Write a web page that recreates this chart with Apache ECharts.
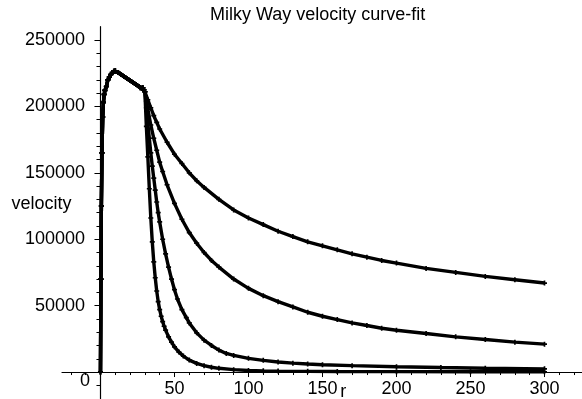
<!DOCTYPE html>
<html>
<head>
<meta charset="utf-8">
<script src="https://cdn.jsdelivr.net/npm/echarts@6/dist/echarts.min.js"></script>
<style>
html,body{margin:0;padding:0;background:#fff;}
#chart{width:582px;height:399px;}
</style>
</head>
<body>
<div id="chart"></div>
<script>
// ---- data (velocity values in thousands) ----
const titleText = 'Milky Way velocity curve-fit';
const xName = 'r';
const yName = 'velocity';
const xTickLabels = [50, 100, 150, 200, 250, 300];
const yTickLabels = [0, 50000, 100000, 150000, 200000, 250000];

// shared rising part (r from 0 to 30)
const riseR = [0, 0.3, 0.6, 1, 1.5, 2, 2.5, 3, 4, 5, 6, 7, 8, 9, 10, 12, 14, 16, 18, 20, 22, 24, 26, 27, 28, 28.6, 29.3, 30];
const riseV = [0, 70, 125, 165, 192, 203, 209, 212, 215, 220, 222, 224, 225.5, 226.5, 226.8, 225.5, 224, 222.5, 221, 219.5, 218, 216.5, 215, 214, 213.5, 214, 212.5, 211];

// four fitted fall-off curves beyond r = 30
const tailR_A = [32, 34, 36, 38, 40, 45, 50, 55, 60, 65, 70, 80, 90, 100, 110, 120, 130, 140, 150, 160, 170, 180, 190, 200, 220, 240, 260, 280, 300];
const tailV_A = [205, 199, 193, 188, 183, 173, 164, 157, 150, 144, 139, 130, 122, 116, 111, 106, 102, 98, 95, 92, 89, 86.5, 84, 82, 78, 75, 72, 69.5, 67];

const tailR_B = [31, 32, 34, 36, 38, 40, 42, 45, 50, 55, 60, 65, 70, 75, 80, 90, 100, 110, 120, 130, 140, 150, 160, 170, 180, 190, 200, 220, 240, 260, 280, 300];
const tailV_B = [204, 198, 186, 176, 167, 158, 151, 141, 127, 115, 105, 97, 90, 84, 79, 70, 63, 57.5, 53, 49, 45, 42, 39.5, 37, 35, 33, 31.5, 29, 26.5, 24.5, 22.5, 21];

const tailR_C = [31, 32, 33, 34, 35, 36, 37, 38, 39, 40, 42, 44, 46, 48, 50, 52, 55, 58, 60, 65, 70, 75, 80, 85, 90, 100, 110, 120, 130, 140, 150, 170, 200, 230, 260, 300];
const tailV_C = [199, 187, 176, 165, 155, 146, 137, 128, 120, 113, 100, 89, 79, 70, 62, 55, 47, 41, 37, 29.5, 24, 20, 16.5, 14, 12.5, 10.3, 8.8, 7.6, 6.7, 6.0, 5.5, 4.8, 4.0, 3.4, 2.9, 2.4];

const tailR_D = [31, 32, 33, 34, 35, 36, 37, 38, 39, 40, 41, 42, 43, 44, 46, 48, 50, 53, 56, 60, 65, 70, 75, 80, 90, 100, 110, 120, 140, 160, 200, 250, 300];
const tailV_D = [185, 162, 138, 116, 98, 83, 71, 61, 53, 47, 42, 38, 34.5, 31.6, 26.5, 22.5, 19, 15, 12, 9, 6.5, 4.8, 3.6, 2.8, 1.8, 1.2, 0.9, 0.7, 0.5, 0.4, 0.3, 0.2, 0.2];

// ---- axis ranges ----
const X_MIN = -26, X_MAX = 325;
const Y_MIN = -20000, Y_MAX = 260000;

// ---- build ----
const K = 1000;
function curve(tr, tv) {
  const out = [];
  riseR.forEach((r, i) => out.push([r, riseV[i] * K]));
  tr.forEach((r, i) => out.push([r, tv[i] * K]));
  return out;
}
const xMinor = [], yMinor = [];
for (let v = -20; v <= 320; v += 10) if (v % 50 !== 0) xMinor.push(v);
for (let v = -10000; v <= 250000; v += 10000) if (v % 50000 !== 0) yMinor.push(v);

const FONT = 'Liberation Sans, Arial, sans-serif';
const PLUS = 'path://M2,0H4V2H6V4H4V6H2V4H0V2H2Z';

const G = { left: 62, top: 26.7, width: 519.5, height: 371.9 };
// axes cross at the origin: shift each axis from the grid edge to the other axis' zero
const yOff = -G.width * (0 - X_MIN) / (X_MAX - X_MIN);
const xOff = -G.height * (0 - Y_MIN) / (Y_MAX - Y_MIN);

function series(tr, tv) {
  return {
    type: 'line', xAxisIndex: 0, yAxisIndex: 0,
    data: curve(tr, tv),
    symbol: PLUS, symbolSize: 5, showAllSymbol: true,
    lineStyle: { color: '#000', width: 3.4 },
    itemStyle: { color: '#000' },
    emphasis: { disabled: true },
    silent: true
  };
}

const chart = echarts.init(document.getElementById('chart'), null, { renderer: 'canvas' });
const axisLineStyle = { color: '#000', width: 1.2 };
chart.setOption({
  animation: false,
  backgroundColor: '#fff',
  title: {
    text: titleText, left: 210, top: 6.5, padding: 0,
    textStyle: { fontFamily: FONT, fontSize: 18, fontWeight: 'normal', color: '#000' }
  },
  grid: Object.assign({ containLabel: false, outerBoundsMode: 'none' }, G),
  xAxis: [
    {
      type: 'value', min: X_MIN, max: X_MAX, position: 'bottom', offset: xOff,
      axisLine: { onZero: false, lineStyle: axisLineStyle },
      axisTick: { customValues: xTickLabels, length: 5, lineStyle: { color: '#000', width: 1 } },
      axisLabel: { customValues: xTickLabels, fontFamily: FONT, fontSize: 18, color: '#000', margin: 8, hideOverlap: false },
      splitLine: { show: false },
      name: xName, nameLocation: 'middle', nameGap: 11, nameMoveOverlap: false,
      nameTextStyle: { fontFamily: FONT, fontSize: 18, color: '#000', padding: [0, 0, 0, 43] }
    },
    {
      type: 'value', min: X_MIN, max: X_MAX, position: 'bottom', offset: xOff,
      axisLine: { onZero: false, show: false },
      axisTick: { customValues: xMinor, length: 3, lineStyle: { color: '#000', width: 1 } },
      axisLabel: { show: false },
      splitLine: { show: false }
    }
  ],
  yAxis: [
    {
      type: 'value', min: Y_MIN, max: Y_MAX, position: 'left', offset: yOff,
      axisLine: { onZero: false, lineStyle: axisLineStyle },
      axisTick: { customValues: [50000, 100000, 150000, 200000, 250000], length: 6, lineStyle: { color: '#000', width: 1 } },
      axisLabel: {
        customValues: yTickLabels, margin: 10.5, hideOverlap: false,
        fontFamily: FONT, fontSize: 18, color: '#000',
        formatter: v => v === 0 ? '{z|0}' : '{n|' + v + '}',
        rich: {
          n: { fontFamily: FONT, fontSize: 18, color: '#000', padding: [0, 5, 0, 0] },
          z: { fontFamily: FONT, fontSize: 18, color: '#000', padding: [18, 0, 0, 0] }
        }
      },
      splitLine: { show: false },
      name: yName, nameLocation: 'middle', nameRotate: 0, nameGap: 29, nameMoveOverlap: false,
      nameTextStyle: { fontFamily: FONT, fontSize: 18, color: '#000', verticalAlign: 'bottom' }
    },
    {
      type: 'value', min: Y_MIN, max: Y_MAX, position: 'left', offset: yOff,
      axisLine: { onZero: false, show: false },
      axisTick: { customValues: yMinor, length: 4, lineStyle: { color: '#000', width: 1 } },
      axisLabel: { show: false },
      splitLine: { show: false }
    }
  ],
  series: [
    series(tailR_A, tailV_A),
    series(tailR_B, tailV_B),
    series(tailR_C, tailV_C),
    series(tailR_D, tailV_D)
  ]
});
</script>
</body>
</html>
